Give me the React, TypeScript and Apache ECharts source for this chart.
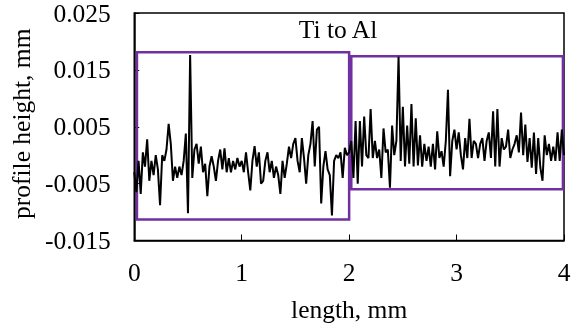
import React, { useEffect, useRef } from "react";
import * as echarts from "echarts";

// sampling step along the profile (mm)
const lengthStepMm = 0.02;

// profile height (mm), one value per step
const profileHeightMm = [
  -0.003, -0.0065, -0.001, -0.0068, 0.0005, -0.002, 0.0028, -0.0045, -0.001, -0.0035,
  0.0, -0.0025, -0.0088, 0.0, -0.001, 0.001, 0.0055, 0.002, -0.0045, -0.002,
  -0.004, -0.002, -0.0035, -0.001, 0.0038, -0.0102, 0.0176, -0.004, 0.001, 0.002,
  -0.0015, 0.0015, -0.003, -0.0015, -0.0072, -0.002, -0.0002, -0.002, -0.0045, -0.001,
  0.001, -0.0025, 0.0012, -0.003, -0.0005, -0.003, -0.001, -0.0025, -0.0005, -0.002,
  -0.001, -0.003, 0.0005, -0.003, -0.0062, -0.001, 0.0016, -0.002, 0.0005, -0.005,
  -0.0045, -0.001, 0.0005, -0.003, -0.001, -0.004, -0.002, -0.0035, -0.0068, -0.001,
  -0.004, -0.0015, 0.0015, -0.0005, 0.002, 0.003, -0.001, -0.003, 0.003, -0.0005,
  -0.005, 0.0, 0.002, 0.006, -0.002, 0.0045, 0.005, -0.0085, -0.002, 0.0007,
  -0.0025, -0.0035, -0.0106, -0.001, 0.0, -0.0005, 0.0005, -0.004, 0.0013, 0.0,
  0.0005, 0.0025, -0.004, 0.006, -0.005, 0.006, -0.002, 0.0068, 0.0, -0.0005,
  0.0081, -0.0005, 0.0025, -0.0005, 0.001, -0.004, 0.0047, 0.0005, 0.001, -0.0057,
  0.0052, 0.0, 0.0025, 0.0173, -0.001, 0.0085, -0.002, 0.0052, -0.0015, 0.009,
  -0.002, 0.0065, -0.0018, 0.0035, -0.002, 0.002, -0.001, 0.0015, -0.002, 0.002,
  -0.0025, 0.0042, -0.0005, 0.0007, -0.002, 0.0025, 0.0115, -0.0037, 0.0025, 0.0045,
  0.001, 0.004, 0.0, -0.0025, 0.003, -0.0005, 0.0064, -0.0005, 0.0025, 0.002,
  -0.0005, 0.002, 0.003, -0.001, 0.0025, 0.004, -0.0005, 0.0077, -0.002, 0.0081,
  -0.002, 0.003, 0.001, 0.0015, 0.0045, -0.0005, 0.001, 0.002, 0.0035, 0.0005,
  0.0075, 0.0, 0.0054, -0.0012, 0.003, -0.0022, 0.004, -0.0033, 0.003, -0.0022,
  -0.0045, 0.0035, 0.0, 0.002, -0.001, 0.0015, -0.001, 0.004, -0.001, 0.0045,
  0.0,
];

// highlighted regions: [x, y] of top-left and bottom-right corners (mm)
const titaniumRegion = [[0.025, 0.0181], [2.0, -0.0113]];
const aluminiumRegion = [[2.02, 0.0174], [3.99, -0.006]];

const xAxisRange = { min: 0, max: 4, interval: 1 };
const yAxisRange = { min: -0.015, max: 0.025, interval: 0.01 };

const chartTitle = "Ti to Al";
const xAxisName = "length, mm";
const yAxisName = "profile height, mm";

const FONT = "serif";
const FS = 25.5;
const PURPLE = "#7030A0";

export default function App() {
  const ref = useRef<HTMLDivElement>(null);

  useEffect(() => {
    if (!ref.current) return;
    const chart = echarts.init(ref.current, null, { renderer: "svg" });
    const seriesData = profileHeightMm.map((v, i) => [
      Number((i * lengthStepMm).toFixed(2)),
      v,
    ]);
    const toArea = (r: number[][]) => [{ coord: r[0] }, { coord: r[1] }];

    chart.setOption({
      animation: false,
      grid: {
        left: 133.5,
        right: 18,
        top: 10.5,
        bottom: 89.5,
        show: true,
        borderColor: "#000",
        borderWidth: 1.5,
      },
      graphic: [
        {
          type: "text",
          x: 338,
          y: 16,
          style: {
            text: chartTitle,
            fontFamily: FONT,
            fontSize: FS,
            fill: "#000",
            textAlign: "center",
          },
        },
      ],
      xAxis: {
        type: "value",
        ...xAxisRange,
        name: xAxisName,
        nameLocation: "middle",
        nameGap: 56,
        nameTextStyle: { fontFamily: FONT, fontSize: FS, color: "#000" },
        axisLine: { show: true, onZero: false, lineStyle: { color: "#000", width: 1.5 } },
        axisTick: { show: true, inside: true, length: 6, lineStyle: { color: "#000", width: 1 } },
        axisLabel: {
          fontFamily: FONT,
          fontSize: FS,
          color: "#000",
          margin: 19,
        },
        splitLine: { show: false },
      },
      yAxis: {
        type: "value",
        ...yAxisRange,
        name: yAxisName,
        nameLocation: "middle",
        nameGap: 92,
        nameTextStyle: { fontFamily: FONT, fontSize: FS, color: "#000", padding: [0, 0, 0, 6] },
        axisLine: { show: true, onZero: false, lineStyle: { color: "#000", width: 1.5 } },
        axisTick: { show: true, inside: true, length: 5, lineStyle: { color: "#000", width: 1 } },
        axisLabel: {
          fontFamily: FONT,
          fontSize: FS,
          color: "#000",
          margin: 23.5,
          formatter: (v: number) => v.toFixed(3),
        },
        splitLine: { show: false },
      },
      series: [
        {
          type: "line",
          data: seriesData,
          showSymbol: false,
          lineStyle: { color: "#000", width: 2 },
          itemStyle: { color: "#000" },
          markArea: {
            silent: true,
            itemStyle: {
              color: "rgba(0,0,0,0)",
              borderColor: PURPLE,
              borderWidth: 2.5,
            },
            data: [toArea(titaniumRegion), toArea(aluminiumRegion)],
          },
        },
      ],
    });
    return () => chart.dispose();
  }, []);

  return (
    <div
      ref={ref}
      style={{ position: "fixed", left: 0, top: 0, width: 582, height: 330 }}
    />
  );
}
